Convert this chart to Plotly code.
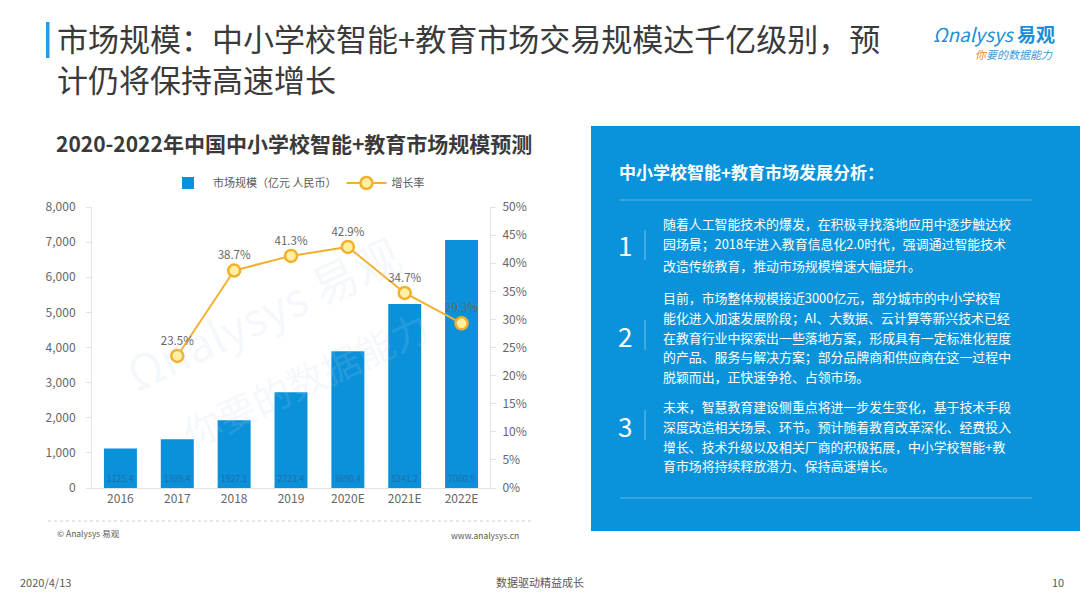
import plotly.graph_objects as go

# chart data
years = ['2016', '2017', '2018', '2019', '2020E', '2021E', '2022E']
market_size = [1125.4, 1389.4, 1927.1, 2723.4, 3890.4, 5241.2, 7060.9]
growth_rate = [None, 23.5, 38.7, 41.3, 42.9, 34.7, 29.3]
size_ticks = [0, 1000, 2000, 3000, 4000, 5000, 6000, 7000, 8000]
rate_ticks = [0, 5, 10, 15, 20, 25, 30, 35, 40, 45, 50]

# page text
page_title = ['市场规模：中小学校智能+教育市场交易规模达千亿级别，预', '计仍将保持高速增长']
chart_title = '2020-2022年中国中小学校智能+教育市场规模预测'
panel_title = '中小学校智能+教育市场发展分析：'
points = [
    ['随着人工智能技术的爆发，在积极寻找落地应用中逐步触达校',
     '园场景；2018年进入教育信息化2.0时代，强调通过智能技术',
     '改造传统教育，推动市场规模增速大幅提升。'],
    ['目前，市场整体规模接近3000亿元，部分城市的中小学校智',
     '能化进入加速发展阶段；AI、大数据、云计算等新兴技术已经',
     '在教育行业中探索出一些落地方案，形成具有一定标准化程度',
     '的产品、服务与解决方案；部分品牌商和供应商在这一过程中',
     '脱颖而出，正快速争抢、占领市场。'],
    ['未来，智慧教育建设侧重点将进一步发生变化，基于技术手段',
     '深度改造相关场景、环节。预计随着教育改革深化、经费投入',
     '增长、技术升级以及相关厂商的积极拓展，中小学校智能+教',
     '育市场将持续释放潜力、保持高速增长。'],
]

W, H = 1080, 599
FONT = 'Noto Sans CJK SC'
BAR_BLUE = '#0b91d9'
GOLD = '#f3b02f'


def px(x):
    return x / W


def py(y):
    return 1 - y / H


fig = go.Figure()

fig.add_trace(go.Bar(
    x=years, y=market_size, name='市场规模（亿元 人民币）',
    marker=dict(color=BAR_BLUE, line=dict(width=0)),
    text=[f'{v:.1f}' for v in market_size],
    textposition='inside', insidetextanchor='start', textangle=0,
    textfont=dict(size=10, color='rgba(40,95,150,0.75)'),
    cliponaxis=False,
))

fig.add_trace(go.Scatter(
    x=years, y=growth_rate, name='增长率', yaxis='y2',
    mode='lines+markers+text',
    line=dict(color=GOLD, width=2),
    marker=dict(size=12, color='#fff1a0', line=dict(color=GOLD, width=2.5)),
    text=[f'{v}%' if v is not None else '' for v in growth_rate],
    textposition='top center',
    textfont=dict(size=11.5, color='#666666'),
    cliponaxis=False,
))

axis_font = dict(size=12, color='#666666', family=FONT)

fig.update_layout(
    width=W, height=H,
    margin=dict(l=0, r=0, t=0, b=0, autoexpand=False),
    paper_bgcolor='white', plot_bgcolor='white',
    font=dict(family=FONT),
    bargap=0.42,
    showlegend=True,
    legend=dict(orientation='h', x=px(163), y=py(183), xanchor='left', yanchor='middle',
                font=dict(size=11, color='#595959'), itemwidth=40, traceorder='normal',
                bgcolor='rgba(0,0,0,0)'),
    xaxis=dict(domain=[px(92), px(490)], tickfont=axis_font, showgrid=False,
               showline=True, linecolor='#e3e3e3', ticks='', fixedrange=True),
    yaxis=dict(domain=[py(488), py(207)], range=[0, 8000], tickmode='array',
               tickvals=size_ticks, ticktext=[f'{v:,}' for v in size_ticks],
               tickfont=axis_font, showgrid=False, zeroline=False,
               showline=True, linecolor='#e3e3e3', ticks='outside', ticklen=5,
               tickcolor='#e3e3e3', ticklabelstandoff=8),
    yaxis2=dict(overlaying='y', side='right', range=[0, 50], tickmode='array',
                tickvals=rate_ticks, ticktext=[f'{v}%' for v in rate_ticks],
                tickfont=axis_font, showgrid=False, zeroline=False,
                showline=True, linecolor='#e3e3e3', ticks='outside', ticklen=5,
                tickcolor='#e3e3e3', ticklabelstandoff=4),
)

shapes = [
    # title accent bar
    dict(type='rect', xref='paper', yref='paper', x0=px(46), x1=px(49.5), y0=py(58), y1=py(22),
         fillcolor='#2a9be0', line=dict(width=0)),
    # source divider
    dict(type='line', xref='paper', yref='paper', x0=px(48), x1=px(531), y0=py(521), y1=py(521),
         line=dict(color='#d0d0d0', width=1, dash='dot')),
    # right panel
    dict(type='rect', xref='paper', yref='paper', x0=px(591), x1=px(1080), y0=py(531), y1=py(126),
         fillcolor='#0a93da', line=dict(width=0), layer='below'),
    dict(type='line', xref='paper', yref='paper', x0=px(620), x1=px(1032), y0=py(200), y1=py(200),
         line=dict(color='rgba(255,255,255,0.35)', width=1)),
    dict(type='line', xref='paper', yref='paper', x0=px(620), x1=px(1032), y0=py(498), y1=py(498),
         line=dict(color='rgba(255,255,255,0.35)', width=1)),
]

annotations = []


def note(text, x, y, size, color, xanchor='left', bold=False, yanchor='middle', **kw):
    if bold:
        text = f'<b>{text}</b>'
    annotations.append(dict(text=text, x=px(x), y=py(y), xref='paper', yref='paper',
                            xanchor=xanchor, yanchor=yanchor, showarrow=False,
                            font=dict(size=size, color=color, family=FONT), **kw))


# page title
note(page_title[0], 55, 38, 31, '#3a3a3a')
note(page_title[1], 55, 78, 31, '#3a3a3a')

# logo
note('<i>Ωnalysys</i> <b>易观</b>', 1057, 33, 19, '#1a8fd6', xanchor='right')
note("<i><span style='color:#f08a24'>你</span>要的数据能力</i>", 1055, 54, 11, '#3a9ad9',
     xanchor='right')

# watermark
annotations.append(dict(text='Ωnalysys 易观', x=px(262), y=py(312), xref='paper', yref='paper',
                        xanchor='center', yanchor='middle',
                        showarrow=False, textangle=-25,
                        font=dict(size=46, color='rgba(190,210,232,0.16)', family=FONT)))
annotations.append(dict(text='你要的数据能力', x=px(305), y=py(378), xref='paper', yref='paper',
                        xanchor='center', yanchor='middle',
                        showarrow=False, textangle=-25,
                        font=dict(size=38, color='rgba(190,210,232,0.16)', family=FONT)))

# chart title and source
note(chart_title, 54, 143, 21, '#3a3a3a', bold=True)
note('© Analysys 易观', 55, 533, 8.5, '#595959')
note('www.analysys.cn', 521, 535, 8.5, '#595959', xanchor='right')

# right panel
note(panel_title, 617, 172, 17, 'white', bold=True)
para_rows = [[223, 244, 265], [297, 317, 337, 356, 376], [406, 426, 446, 465]]
number_rows = [245, 335, 425]
for i, lines in enumerate(points):
    rows = para_rows[i]
    note(str(i + 1), 625, number_rows[i], 26, 'white', xanchor='center')
    shapes.append(dict(type='line', xref='paper', yref='paper', x0=px(645), x1=px(645),
                       y0=py(number_rows[i] + 15), y1=py(number_rows[i] - 15),
                       line=dict(color='rgba(255,255,255,0.45)', width=1)))
    for line, y in zip(lines, rows):
        note(line, 661, y, 12.9, 'white')

# footer
note('2020/4/13', 18, 582, 11, '#595959')
note('数据驱动精益成长', 540, 582, 11, '#595959', xanchor='center')
note('10', 1066, 582, 11, '#595959', xanchor='right')

fig.update_layout(shapes=shapes, annotations=annotations)

fig.write_html('out.html', config={'displayModeBar': False},
               post_script="document.body.style.margin='0';")
